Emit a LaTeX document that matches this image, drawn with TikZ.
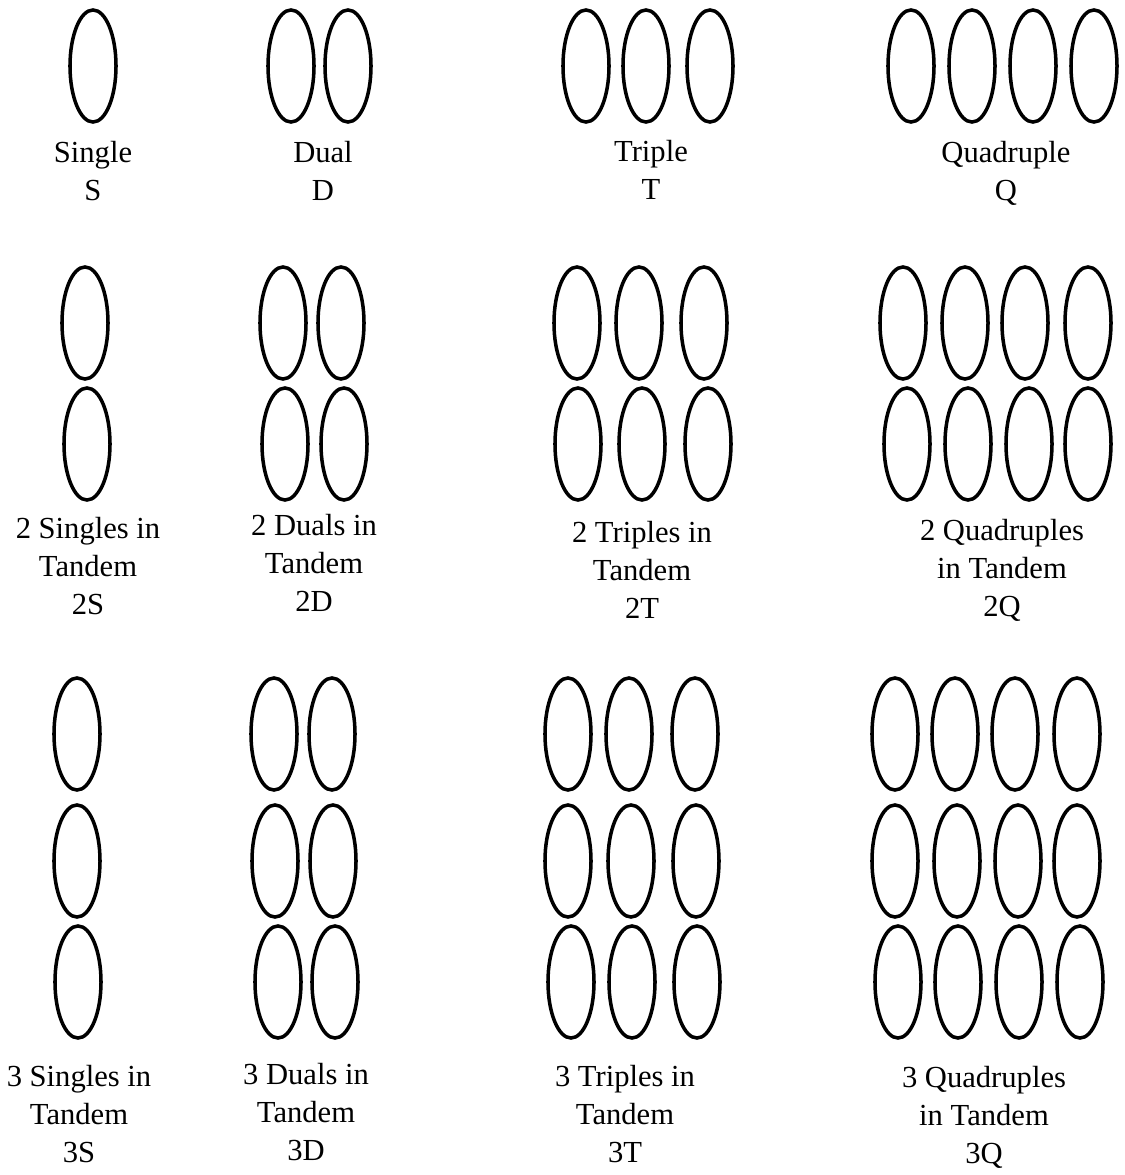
\documentclass[tikz,border=0pt]{standalone}
\usepackage{fontspec}
\setmainfont{Liberation Serif}
\usetikzlibrary{shapes.geometric}

\begin{document}
\begin{tikzpicture}[x=0.01cm,y=-0.01cm,
  tyre/.style={draw,ellipse,line width=1pt,minimum width=4.6mm,minimum height=11.2mm,inner sep=0pt},
  axlelabel/.style={align=center,inner sep=0pt,font=\fontsize{8.7}{10.8}\selectfont}
]
  \useasboundingbox (0,0) rectangle (1125,1175);

  % single axles
  \node[tyre] (S-1) at (93,66) {};
  \foreach \x [count=\i] in {291,348} \node[tyre] (D-\i) at (\x,66) {};
  \foreach \x [count=\i] in {586,646,710} \node[tyre] (T-\i) at (\x,66) {};
  \foreach \x [count=\i] in {911,972,1033,1094} \node[tyre] (Q-\i) at (\x,66) {};
  \node[axlelabel] (S-lbl) at (93,171) {Single\\S};
  \node[axlelabel] (D-lbl) at (323,171) {Dual\\D};
  \node[axlelabel] (T-lbl) at (651,170) {Triple\\T};
  \node[axlelabel] (Q-lbl) at (1006,173) {Quadruple\\Q};

  % tandem axles
  \foreach \x/\y [count=\i] in {85/323,87/444} \node[tyre] (S2-\i) at (\x,\y) {};
  \foreach \x/\y [count=\i] in {283/323,341/323,285/444,344/444} \node[tyre] (D2-\i) at (\x,\y) {};
  \foreach \x/\y [count=\i] in {577/323,639/323,704/323,578/444,642/444,708/444}
    \node[tyre] (T2-\i) at (\x,\y) {};
  \foreach \x/\y [count=\i] in {903/323,965/323,1025/323,1088/323,907/444,968/444,1029/444,1088/444}
    \node[tyre] (Q2-\i) at (\x,\y) {};
  \node[axlelabel] (S2-lbl) at (88,566) {2 Singles in\\Tandem\\2S};
  \node[axlelabel] (D2-lbl) at (314,563) {2 Duals in\\Tandem\\2D};
  \node[axlelabel] (T2-lbl) at (642,570) {2 Triples in\\Tandem\\2T};
  \node[axlelabel] (Q2-lbl) at (1002,570) {2 Quadruples\\in Tandem\\2Q};

  % tridem axles
  \foreach \x/\y [count=\i] in {77/734,77/861,78/982} \node[tyre] (S3-\i) at (\x,\y) {};
  \foreach \x/\y [count=\i] in {274/734,332/734,275/861,333/861,278/982,335/982}
    \node[tyre] (D3-\i) at (\x,\y) {};
  \foreach \x/\y [count=\i] in {568/734,629/734,695/734,568/861,631/861,696/861,571/982,632/982,697/982}
    \node[tyre] (T3-\i) at (\x,\y) {};
  \foreach \x/\y [count=\i] in {895/734,955/734,1015/734,1077/734,895/861,957/861,1018/861,1077/861,898/982,958/982,1019/982,1080/982}
    \node[tyre] (Q3-\i) at (\x,\y) {};
  \node[axlelabel] (S3-lbl) at (79,1114) {3 Singles in\\Tandem\\3S};
  \node[axlelabel] (D3-lbl) at (306,1112) {3 Duals in\\Tandem\\3D};
  \node[axlelabel] (T3-lbl) at (625,1114) {3 Triples in\\Tandem\\3T};
  \node[axlelabel] (Q3-lbl) at (984,1117) {3 Quadruples\\in Tandem\\3Q};
\end{tikzpicture}
\end{document}
